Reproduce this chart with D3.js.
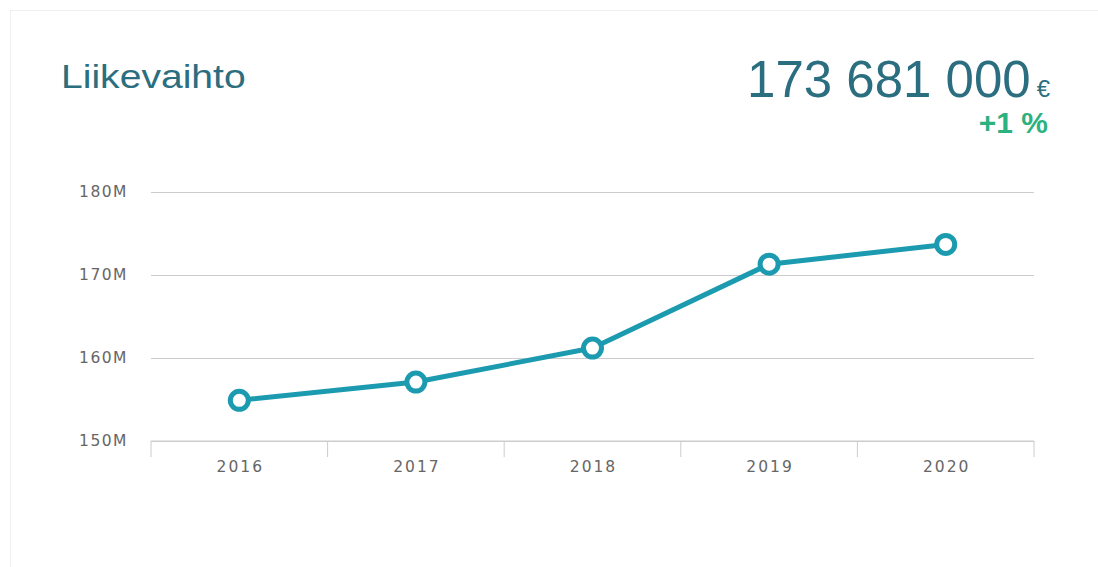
<!DOCTYPE html>
<html>
<head>
<meta charset="utf-8">
<script src="https://cdn.jsdelivr.net/npm/d3@7"></script>
<style>
  html, body { margin: 0; padding: 0; background: #fff; }
  svg { display: block; }
</style>
</head>
<body>
<svg id="chart" width="1098" height="567"></svg>
<script>
// Revenue by year (millions of euros)
const years = ["2016", "2017", "2018", "2019", "2020"];
const revenue = [154.9, 157.1, 161.2, 171.3, 173.681];
const yTicks = [150, 160, 170, 180];
const titleText = "Liikevaihto";
const totalText = "173 681 000";
const currencyText = "€";
const changeText = "+1 %";

const svg = d3.select("#chart");
const W = 1098, H = 567;
const margin = { left: 151, right: 64, top: 192, bottom: 126 };
const axisFont = "DejaVu Sans, Verdana, sans-serif";
const headFont = "Liberation Sans, Arial, sans-serif";

// card outline
svg.append("rect")
  .attr("x", 10.5).attr("y", 10.5)
  .attr("width", W + 20).attr("height", H + 20)
  .attr("fill", "#fff").attr("stroke", "#efefef");

const x = d3.scaleBand()
  .domain(years)
  .range([margin.left, W - margin.right]);

const y = d3.scaleLinear()
  .domain([150, 180])
  .range([H - margin.bottom, margin.top]);

// horizontal grid lines and y labels
const yAxis = d3.axisLeft(y)
  .tickValues(yTicks)
  .tickSize(-(W - margin.right - margin.left))
  .tickPadding(23)
  .tickFormat(d => d + "M");

const gy = svg.append("g")
  .attr("transform", `translate(${margin.left},0)`)
  .call(yAxis);
gy.select(".domain").remove();
gy.selectAll(".tick line").attr("stroke", "#cccccc").attr("stroke-width", 1);
gy.selectAll(".tick text")
  .attr("fill", "#666").attr("font-family", axisFont)
  .attr("font-size", 15.5).attr("letter-spacing", 1.5)
  .attr("dy", "0.3em");

// x axis with ticks at band boundaries
const gx = svg.append("g")
  .attr("transform", `translate(0,${H - margin.bottom})`);
gx.append("line")
  .attr("x1", margin.left).attr("x2", W - margin.right)
  .attr("stroke", "#cccccc");
const bounds = years.map(d => x(d)).concat([x(years[years.length - 1]) + x.bandwidth()]);
gx.selectAll("line.sep").data(bounds).join("line")
  .attr("class", "sep")
  .attr("x1", d => d).attr("x2", d => d)
  .attr("y1", 0).attr("y2", 16)
  .attr("stroke", "#cccccc");
gx.selectAll("text").data(years).join("text")
  .attr("x", d => x(d) + x.bandwidth() / 2 + 1)
  .attr("y", 31)
  .attr("text-anchor", "middle")
  .attr("fill", "#666")
  .attr("font-family", axisFont)
  .attr("font-size", 15.5)
  .attr("letter-spacing", 2)
  .text(d => d);

// revenue line
const pts = years.map((d, i) => [x(d) + x.bandwidth() / 2, y(revenue[i])]);
const lineColor = "#1c9bb0";
svg.append("path")
  .datum(pts)
  .attr("d", d3.line())
  .attr("fill", "none")
  .attr("stroke", lineColor)
  .attr("stroke-width", 5)
  .attr("stroke-linejoin", "round");

svg.selectAll("circle.pt").data(pts).join("circle")
  .attr("class", "pt")
  .attr("cx", d => d[0]).attr("cy", d => d[1])
  .attr("r", 9)
  .attr("fill", "#fff")
  .attr("stroke", lineColor)
  .attr("stroke-width", 5);

// header
svg.append("text")
  .attr("transform", "translate(61,88) scale(1.15,1)")
  .attr("fill", "#2b6e7f")
  .attr("font-family", headFont)
  .attr("font-size", 34)
  .text(titleText);

const big = svg.append("text")
  .attr("x", 1050).attr("y", 97)
  .attr("text-anchor", "end")
  .attr("fill", "#2b6e7f")
  .attr("font-family", headFont);
big.append("tspan").attr("font-size", 51).text(totalText);
big.append("tspan").attr("font-size", 24).attr("dx", 6).text(currencyText);

svg.append("text")
  .attr("x", 1048).attr("y", 133)
  .attr("text-anchor", "end")
  .attr("fill", "#2cb180")
  .attr("font-family", headFont)
  .attr("font-weight", "bold")
  .attr("font-size", 30)
  .text(changeText);
</script>
</body>
</html>
